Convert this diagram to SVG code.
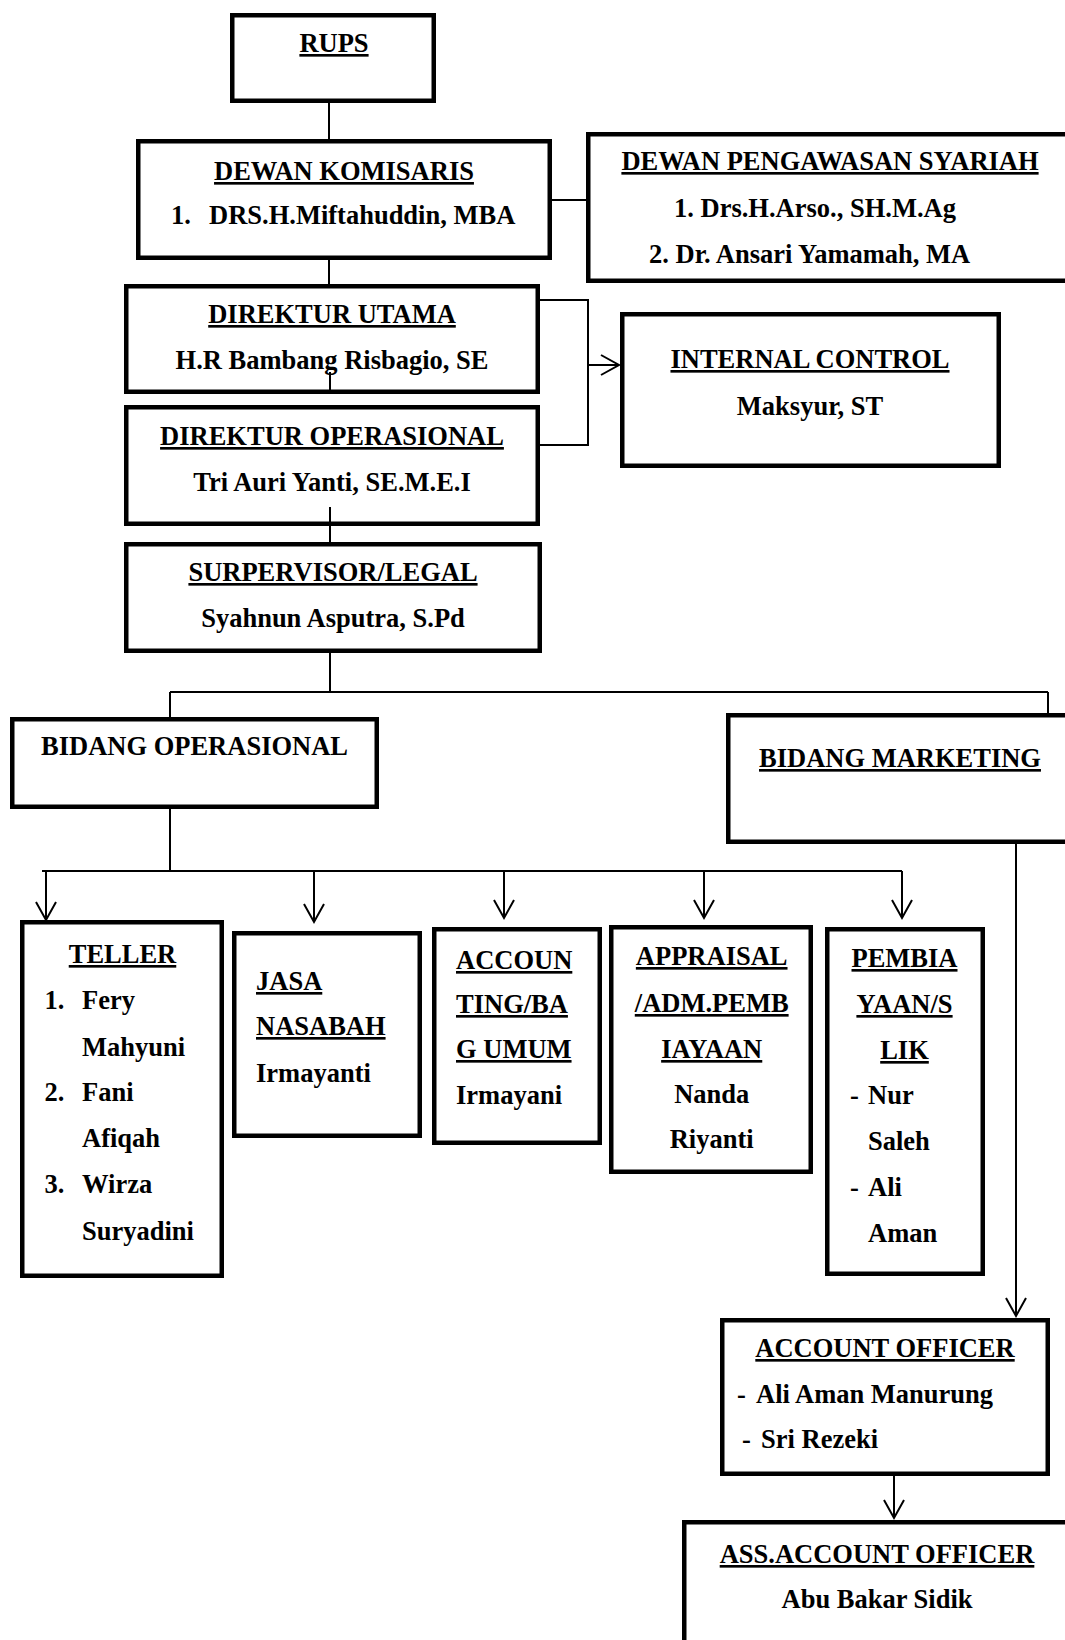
<svg xmlns="http://www.w3.org/2000/svg" width="1065" height="1640" viewBox="0 0 1065 1640">
<style>
.box{fill:#fff;stroke:#000;stroke-width:4.5}
.ln{fill:none;stroke:#000;stroke-width:2}
.t{font-family:"Liberation Serif","Times New Roman",serif;font-weight:bold;font-size:26.5px;fill:#000}
.c{text-anchor:middle}
.u{text-decoration:underline}
</style>
<defs>
<marker id="arr" markerUnits="userSpaceOnUse" markerWidth="24" markerHeight="24" viewBox="0 0 24 24" refX="20" refY="12" orient="auto" overflow="visible">
<path d="M2,2 L20,12 L2,22" fill="none" stroke="#000" stroke-width="2"/>
</marker>
</defs>
<rect width="1065" height="1640" fill="#fff"/>
<g id="connectors">
<path class="ln" d="M329,103 V139"/>
<path class="ln" d="M329,260 V284"/>
<path class="ln" d="M552,200 H586"/>
<path class="ln" d="M540,300 H588 V445 H540"/>
<path class="ln" d="M588,365 H619" marker-end="url(#arr)"/>
<path class="ln" d="M330,653 V692 M170,692 H1048 M170,692 V717 M1048,692 V713"/>
<path class="ln" d="M170,809 V871 M42,871 H902"/>
<path class="ln" d="M46,871 V920" marker-end="url(#arr)"/>
<path class="ln" d="M314,871 V922" marker-end="url(#arr)"/>
<path class="ln" d="M504,871 V918" marker-end="url(#arr)"/>
<path class="ln" d="M704,871 V918" marker-end="url(#arr)"/>
<path class="ln" d="M902,871 V918" marker-end="url(#arr)"/>
<path class="ln" d="M1016,844 V1316" marker-end="url(#arr)"/>
<path class="ln" d="M894,1476 V1518" marker-end="url(#arr)"/>
</g>
<g id="rups">
<rect class="box" x="232.25" y="15.25" width="201.5" height="85.5"/>
<text class="t c u" x="334" y="52">RUPS</text>
</g>
<g id="dewan-komisaris">
<rect class="box" x="138.25" y="141.25" width="411.5" height="116.5"/>
<text class="t c u" x="344" y="180">DEWAN KOMISARIS</text>
<text class="t" x="171" y="224">1.</text>
<text class="t" x="209" y="224">DRS.H.Miftahuddin, MBA</text>
</g>
<g id="dewan-pengawasan-syariah">
<rect class="box" x="588.25" y="134.25" width="500" height="146.5"/>
<text class="t c u" x="830" y="170">DEWAN PENGAWASAN SYARIAH</text>
<text class="t" x="674" y="217">1. Drs.H.Arso., SH.M.Ag</text>
<text class="t" x="649" y="263">2. Dr. Ansari Yamamah, MA</text>
</g>
<g id="direktur-utama">
<rect class="box" x="126.25" y="286.25" width="411.5" height="105.5"/>
<text class="t c u" x="332" y="323">DIREKTUR UTAMA</text>
<text class="t c" x="332" y="369">H.R Bambang Risbagio, SE</text>
</g>
<path class="ln" d="M330,372 V392"/>
<g id="direktur-operasional">
<rect class="box" x="126.25" y="407.25" width="411.5" height="116.5"/>
<text class="t c u" x="332" y="445">DIREKTUR OPERASIONAL</text>
<text class="t c" x="332" y="491">Tri Auri Yanti, SE.M.E.I</text>
</g>
<path class="ln" d="M330,507 V542"/>
<g id="internal-control">
<rect class="box" x="622.25" y="314.25" width="376.5" height="151.5"/>
<text class="t c u" x="810" y="368">INTERNAL CONTROL</text>
<text class="t c" x="810" y="415">Maksyur, ST</text>
</g>
<g id="supervisor-legal">
<rect class="box" x="126.25" y="544.25" width="413.5" height="106.5"/>
<text class="t c u" x="333" y="581">SURPERVISOR/LEGAL</text>
<text class="t c" x="333" y="627">Syahnun Asputra, S.Pd</text>
</g>
<g id="bidang-operasional">
<rect class="box" x="12.25" y="719.25" width="364.5" height="87.5"/>
<text class="t" x="41" y="755">BIDANG OPERASIONAL</text>
</g>
<g id="bidang-marketing">
<rect class="box" x="728.25" y="715.25" width="400" height="126.5"/>
<text class="t c u" x="900" y="767">BIDANG MARKETING</text>
</g>
<g id="teller">
<rect class="box" x="22.25" y="922.25" width="199.5" height="353.5"/>
<text class="t c u" x="122.5" y="963">TELLER</text>
<text class="t" x="44.6" y="1009">1.</text><text class="t" x="82" y="1009">Fery</text>
<text class="t" x="82" y="1056">Mahyuni</text>
<text class="t" x="44.6" y="1101">2.</text><text class="t" x="82" y="1101">Fani</text>
<text class="t" x="82" y="1147">Afiqah</text>
<text class="t" x="44.6" y="1193">3.</text><text class="t" x="82" y="1193">Wirza</text>
<text class="t" x="82" y="1240">Suryadini</text>
</g>
<g id="jasa-nasabah">
<rect class="box" x="234.25" y="933.25" width="185.5" height="202.5"/>
<text class="t u" x="256" y="990">JASA</text>
<text class="t u" x="256" y="1035">NASABAH</text>
<text class="t" x="256" y="1082">Irmayanti</text>
</g>
<g id="accounting">
<rect class="box" x="434.25" y="929.25" width="165.5" height="213.5"/>
<text class="t u" x="456" y="969">ACCOUN</text>
<text class="t u" x="456" y="1013">TING/BA</text>
<text class="t u" x="456" y="1058">G UMUM</text>
<text class="t" x="456" y="1104">Irmayani</text>
</g>
<g id="appraisal">
<rect class="box" x="611.25" y="927.25" width="199.5" height="244.5"/>
<text class="t c u" x="711.7" y="965">APPRAISAL</text>
<text class="t c u" x="711.7" y="1012">/ADM.PEMB</text>
<text class="t c u" x="711.7" y="1058">IAYAAN</text>
<text class="t c" x="711.7" y="1103">Nanda</text>
<text class="t c" x="711.7" y="1148">Riyanti</text>
</g>
<g id="pembiayaan">
<rect class="box" x="827.25" y="929.25" width="155.5" height="344.5"/>
<text class="t c u" x="904.5" y="967">PEMBIA</text>
<text class="t c u" x="904.5" y="1013">YAAN/S</text>
<text class="t c u" x="904.5" y="1059">LIK</text>
<text class="t" x="850" y="1104">-</text><text class="t" x="868" y="1104">Nur</text>
<text class="t" x="868" y="1150">Saleh</text>
<text class="t" x="850" y="1196">-</text><text class="t" x="868" y="1196">Ali</text>
<text class="t" x="868" y="1242">Aman</text>
</g>
<g id="account-officer">
<rect class="box" x="722.25" y="1320.25" width="325.5" height="153.5"/>
<text class="t c u" x="885" y="1357">ACCOUNT OFFICER</text>
<text class="t" x="737" y="1403">-</text><text class="t" x="756" y="1403">Ali Aman Manurung</text>
<text class="t" x="742" y="1448">-</text><text class="t" x="761" y="1448">Sri Rezeki</text>
</g>
<g id="ass-account-officer">
<rect class="box" x="684.25" y="1522.25" width="400" height="200"/>
<text class="t c u" x="877" y="1563">ASS.ACCOUNT OFFICER</text>
<text class="t c" x="877" y="1608">Abu Bakar Sidik</text>
</g>
</svg>
